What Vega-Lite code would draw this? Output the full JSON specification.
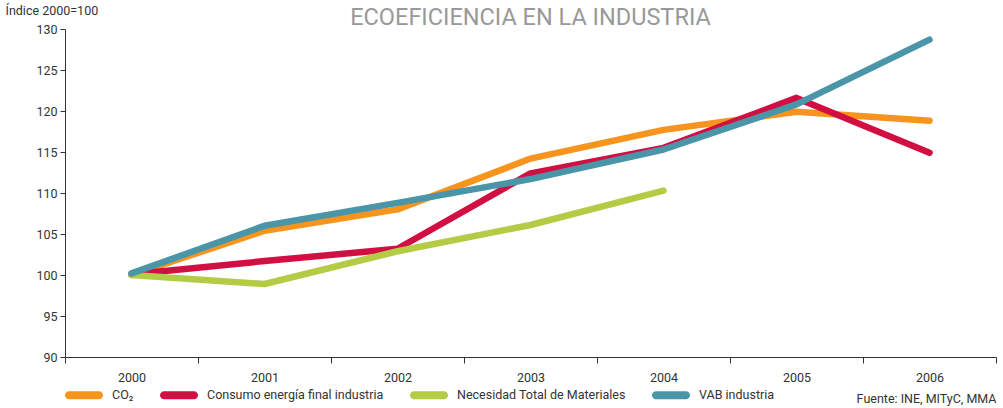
{
  "$schema": "https://vega.github.io/schema/vega-lite/v6.json",
  "width": 931,
  "height": 328,
  "autosize": "none",
  "padding": {"left": 65, "top": 29, "right": 7, "bottom": 51},
  "background": "white",
  "config": {"font": "Roboto", "view": {"stroke": null}},
  "title": {
    "text": "ECOEFICIENCIA EN LA INDUSTRIA",
    "fontSize": 23.5,
    "fontWeight": "normal",
    "color": "#999999",
    "anchor": "middle",
    "offset": 0,
    "dy": 25
  },
  "data": {
    "values": [
      {"serie": "CO₂", "year": 2000, "value": 100.0},
      {"serie": "CO₂", "year": 2001, "value": 105.4},
      {"serie": "CO₂", "year": 2002, "value": 108.0},
      {"serie": "CO₂", "year": 2003, "value": 114.2},
      {"serie": "CO₂", "year": 2004, "value": 117.7},
      {"serie": "CO₂", "year": 2005, "value": 119.9},
      {"serie": "CO₂", "year": 2006, "value": 118.8},
      {"serie": "Consumo energía final industria", "year": 2000, "value": 100.1},
      {"serie": "Consumo energía final industria", "year": 2001, "value": 101.7},
      {"serie": "Consumo energía final industria", "year": 2002, "value": 103.2},
      {"serie": "Consumo energía final industria", "year": 2003, "value": 112.4},
      {"serie": "Consumo energía final industria", "year": 2004, "value": 115.5},
      {"serie": "Consumo energía final industria", "year": 2005, "value": 121.6},
      {"serie": "Consumo energía final industria", "year": 2006, "value": 114.9},
      {"serie": "Necesidad Total de Materiales", "year": 2000, "value": 100.0},
      {"serie": "Necesidad Total de Materiales", "year": 2001, "value": 98.9},
      {"serie": "Necesidad Total de Materiales", "year": 2002, "value": 102.9},
      {"serie": "Necesidad Total de Materiales", "year": 2003, "value": 106.1},
      {"serie": "Necesidad Total de Materiales", "year": 2004, "value": 110.3},
      {"serie": "VAB industria", "year": 2000, "value": 100.2},
      {"serie": "VAB industria", "year": 2001, "value": 106.0},
      {"serie": "VAB industria", "year": 2002, "value": 108.8},
      {"serie": "VAB industria", "year": 2003, "value": 111.7},
      {"serie": "VAB industria", "year": 2004, "value": 115.3},
      {"serie": "VAB industria", "year": 2005, "value": 120.8},
      {"serie": "VAB industria", "year": 2006, "value": 128.7}
    ]
  },
  "mark": {"type": "line", "strokeWidth": 6.5, "strokeCap": "round", "strokeJoin": "round"},
  "encoding": {
    "x": {
      "field": "year",
      "type": "quantitative",
      "scale": {"domain": [1999.5, 2006.5], "nice": false, "zero": false},
      "axis": {
        "values": [1999.5, 2000.5, 2001.5, 2002.5, 2003.5, 2004.5, 2005.5, 2006.5],
        "labelExpr": "datum.value < 2006 ? format(datum.value + 0.5, 'd') : ''",
        "labelOffset": 66.5,
        "labelOverlap": false,
        "labelBound": false,
        "labelFlush": false,
        "labelFontSize": 12.5,
        "labelColor": "#333333",
        "labelPadding": 8,
        "tickSize": 6,
        "tickColor": "#333333",
        "domainColor": "#333333",
        "grid": false,
        "title": "Fuente: INE, MITyC, MMA",
        "titleAnchor": "end",
        "titleFontSize": 12.5,
        "titleFontWeight": "normal",
        "titleColor": "#333333",
        "titleBaseline": "middle",
        "titleY": 41
      }
    },
    "y": {
      "field": "value",
      "type": "quantitative",
      "scale": {"domain": [90, 130], "nice": false, "zero": false},
      "axis": {
        "values": [90, 95, 100, 105, 110, 115, 120, 125, 130],
        "grid": false,
        "labelFontSize": 12.5,
        "labelColor": "#333333",
        "labelPadding": 3,
        "tickSize": 5,
        "tickColor": "#333333",
        "domainColor": "#333333",
        "title": "Índice 2000=100",
        "titleAngle": 0,
        "titleAlign": "left",
        "titleBaseline": "middle",
        "titleX": -60,
        "titleY": -19,
        "titleFontSize": 12.5,
        "titleFontWeight": "normal",
        "titleColor": "#333333"
      }
    },
    "color": {
      "field": "serie",
      "type": "nominal",
      "scale": {
        "domain": ["CO₂", "Consumo energía final industria", "Necesidad Total de Materiales", "VAB industria"],
        "range": ["#F7941D", "#D20F42", "#B3CB45", "#4A95A8"]
      },
      "legend": {
        "orient": "none",
        "direction": "horizontal",
        "legendX": 0,
        "legendY": 347,
        "title": null,
        "symbolType": "M-0.79,-0.21 L0.79,-0.21 A0.21,0.21 0 0 1 0.79,0.21 L-0.79,0.21 A0.21,0.21 0 0 1 -0.79,-0.21 Z",
        "symbolSize": 1444,
        "symbolStrokeWidth": 0,
        "labelFontSize": 12.5,
        "labelColor": "#333333",
        "labelOffset": 9,
        "columnPadding": 25,
        "labelLimit": 400,
        "encode": {
          "symbols": {
            "update": {
              "fill": {"scale": "color", "field": "value"},
              "fillOpacity": {"value": 1},
              "strokeWidth": {"value": 0}
            }
          }
        }
      }
    }
  }
}
